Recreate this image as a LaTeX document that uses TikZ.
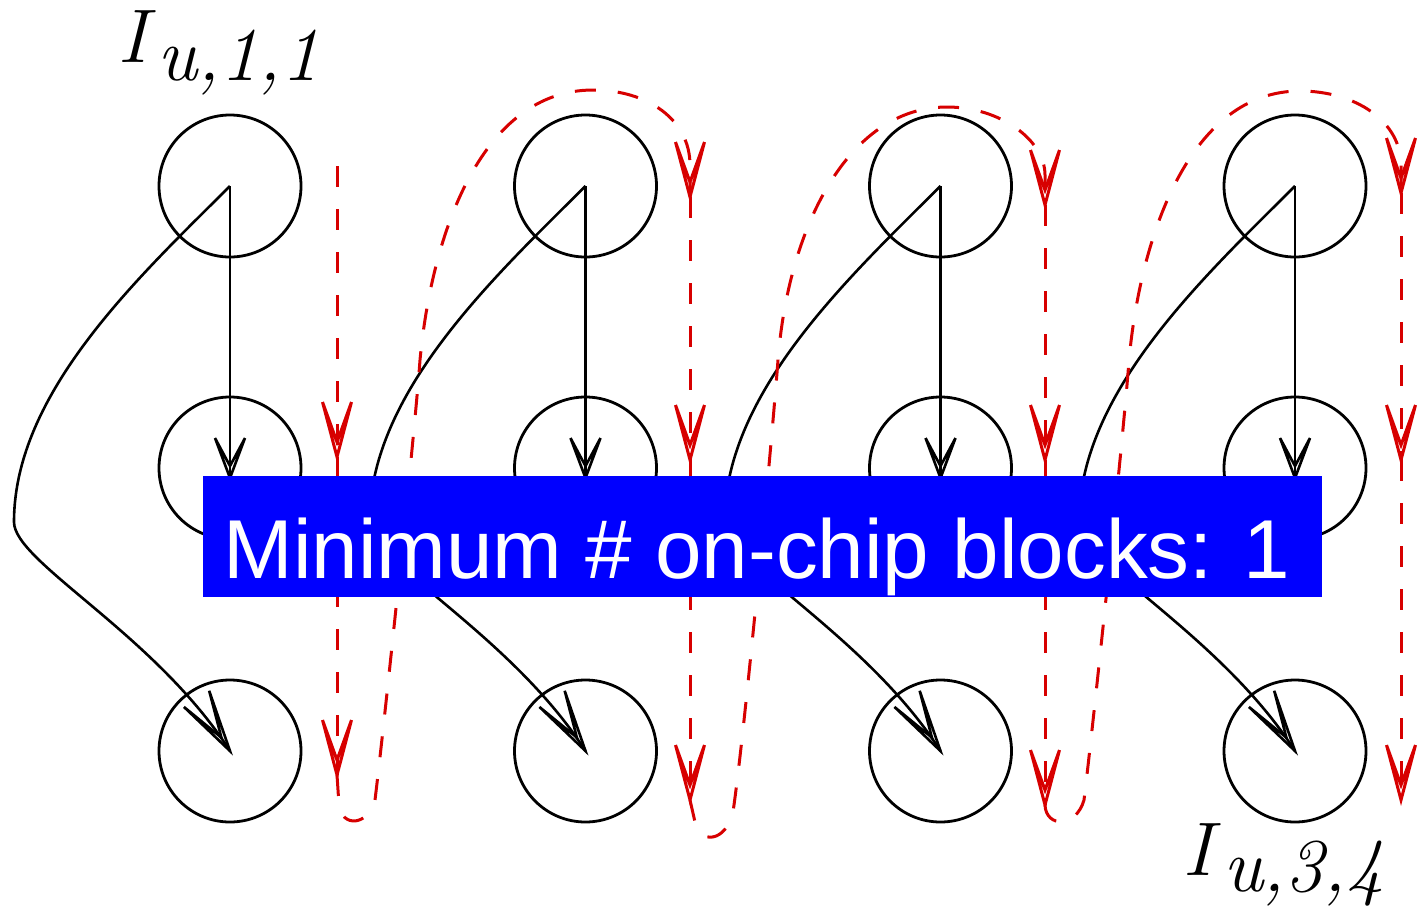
\RequirePackage{fix-cm}
\documentclass[tikz,border=0pt]{standalone}
\usepackage{fontspec}
\newfontfamily\boxfont{Liberation Sans}
\usetikzlibrary{calc}
\definecolor{dred}{RGB}{215,0,0}
\definecolor{pblue}{RGB}{0,0,255}
% open double-vee arrow heads of fixed size
\pgfarrowsdeclare{bvee}{bvee}
{\pgfarrowsleftextend{-40pt}\pgfarrowsrightextend{0pt}}
{\pgfsetdash{}{0pt}\pgfsetmiterjoin
 \pgfpathmoveto{\pgfqpoint{-40pt}{15pt}}\pgfpathlineto{\pgfqpoint{0pt}{0pt}}\pgfpathlineto{\pgfqpoint{-40pt}{-15pt}}
 \pgfpathmoveto{\pgfqpoint{-40pt}{15pt}}\pgfpathlineto{\pgfqpoint{-12pt}{0pt}}\pgfpathlineto{\pgfqpoint{-40pt}{-15pt}}
 \pgfusepathqstroke}
\pgfarrowsdeclare{cvee}{cvee}
{\pgfarrowsleftextend{-62pt}\pgfarrowsrightextend{0pt}}
{\pgfsetdash{}{0pt}\pgfsetmiterjoin
 \pgfpathmoveto{\pgfqpoint{-62pt}{15pt}}\pgfpathlineto{\pgfqpoint{0pt}{0pt}}\pgfpathlineto{\pgfqpoint{-62pt}{-15pt}}
 \pgfpathmoveto{\pgfqpoint{-62pt}{15pt}}\pgfpathlineto{\pgfqpoint{-16pt}{0pt}}\pgfpathlineto{\pgfqpoint{-62pt}{-15pt}}
 \pgfusepathqstroke}
\pgfarrowsdeclare{rvee}{rvee}
{\pgfarrowsleftextend{-55pt}\pgfarrowsrightextend{0pt}}
{\pgfsetdash{}{0pt}\pgfsetmiterjoin
 \pgfpathmoveto{\pgfqpoint{-55pt}{14.5pt}}\pgfpathlineto{\pgfqpoint{0pt}{0pt}}\pgfpathlineto{\pgfqpoint{-55pt}{-14.5pt}}
 \pgfpathmoveto{\pgfqpoint{-55pt}{14.5pt}}\pgfpathlineto{\pgfqpoint{-15pt}{0pt}}\pgfpathlineto{\pgfqpoint{-55pt}{-14.5pt}}
 \pgfusepathqstroke}
\tikzset{
  circnode/.style={circle,draw,line width=2.8pt,minimum size=142pt,inner sep=0pt},
  blk/.style={line width=2.6pt},
  vtip/.style={arrows={-bvee}},
  ctip/.style={arrows={-cvee}},
  rdash/.style={draw=dred,line width=3pt,dash pattern=on 21pt off 22pt},
  rtip/.style={arrows={-rvee}},
}
\begin{document}
\begin{tikzpicture}[x=1pt,y=-1pt]
\useasboundingbox (0,0) rectangle (1426,906);
% circles
\foreach \i/\x in {1/230,2/585.5,3/940.5,4/1295}{
  \node[circnode] (t\i) at (\x,186) {};
  \node[circnode] (m\i) at (\x,468) {};
  \node[circnode] (b\i) at (\x,751) {};
}
% black arrows
\foreach \i in {1,...,4}{
  \draw[blk,vtip,shorten >=-10pt] (t\i.center) -- (m\i.center);
  \coordinate (l\i) at ($(t\i.center)+(-216,336)$);
  \draw[blk,ctip] (t\i.center) .. controls +(-90,90) and +(0,-130) .. (l\i)
     .. controls +(0,40) and +(-75,-117) .. (b\i.center);
}
% red dashed snake
\coordinate (s0) at (337,166);
\coordinate (a1) at (337,457);
\coordinate (a2) at (337,775);
\coordinate (a3) at (690,197);
\coordinate (a4) at (690,460);
\coordinate (a5) at (690,800);
\coordinate (a6) at (1045,205);
\coordinate (a7) at (1045,460);
\coordinate (a8) at (1045,805);
\coordinate (a9) at (1401,193);
\coordinate (a10) at (1401,460);
\coordinate (a11) at (1401,800);
\draw[rdash,rtip] (s0) -- (a1);
\draw[rdash,rtip] (a1) -- (a2);
\draw[rdash,rtip] (a2) -- (339,805) .. controls (342,828) and (368,826) .. (375,800)
   .. controls (385,718) and (415,430) .. (420,360)
   .. controls (432,231) and (483,90) .. (593,90)
   .. controls (648,90) and (690,120) .. (690,165) -- (a3);
\draw[rdash,rtip] (a3) -- (a4);
\draw[rdash,rtip] (a4) -- (a5);
\draw[rdash,rtip] (a5) -- (695,822) .. controls (700,845) and (726,842) .. (733,812)
   .. controls (745,730) and (772,440) .. (778,360)
   .. controls (788,230) and (847,107) .. (947,107)
   .. controls (1000,107) and (1045,140) .. (1045,175) -- (a6);
\draw[rdash,rtip] (a6) -- (a7);
\draw[rdash,rtip] (a7) -- (a8);
\draw[rdash,rtip] (a8) .. controls (1046,828) and (1076,828) .. (1084,800)
   .. controls (1094,718) and (1124,430) .. (1129,360)
   .. controls (1141,231) and (1192,91) .. (1300,91)
   .. controls (1355,91) and (1401,121) .. (1401,165) -- (a9);
\draw[rdash,rtip] (a9) -- (a10);
\draw[rdash,rtip] (a10) -- (a11);
% labels
\node[anchor=base west,inner sep=0pt] (lab1) at (119,62)
  {\fontsize{76}{80}\selectfont$I$\raisebox{-18pt}{\textit{u,1,1}}};
\node[anchor=base west,inner sep=0pt] (lab2) at (1184,875)
  {\fontsize{76}{80}\selectfont$I$\raisebox{-16pt}{\textit{u,3,4}}};
% blue box
\node[fill=pblue,minimum width=1119pt,minimum height=121pt,inner sep=0pt,anchor=north west] (box) at (203,476) {};
\node[anchor=base,text=white,inner sep=0pt,font=\boxfont\fontsize{83.6}{90}\selectfont] (boxtext) at (757,578) {Minimum \# on-chip blocks: 1};
\end{tikzpicture}
\end{document}
